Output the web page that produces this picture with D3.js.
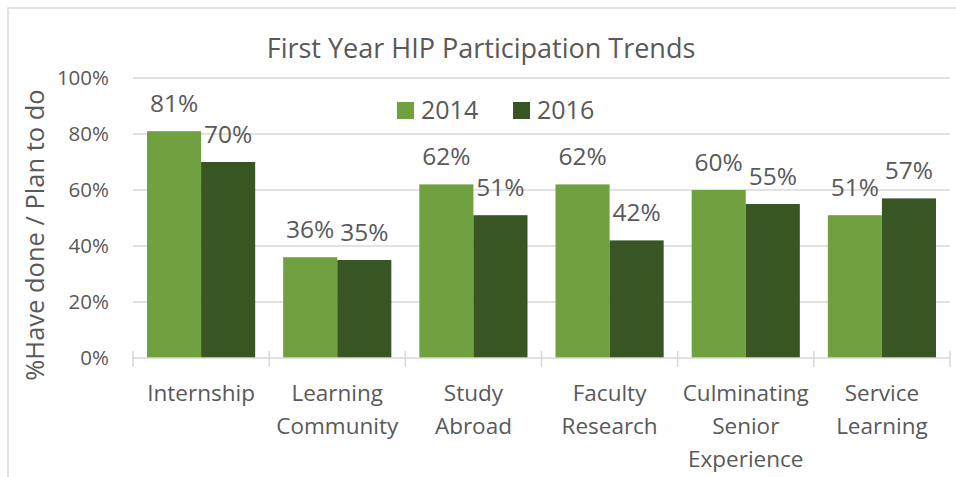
<!DOCTYPE html>
<html>
<head>
<meta charset="utf-8">
<script src="https://cdn.jsdelivr.net/npm/d3@7"></script>
<style>
  body { margin: 0; background: #fff; }
  text { font-family: "Open Sans", sans-serif; fill: #595959; }
</style>
</head>
<body>
<div id="chart"></div>
<script>
var categories = [["Internship"], ["Learning", "Community"], ["Study", "Abroad"],
                  ["Faculty", "Research"], ["Culminating", "Senior", "Experience"], ["Service", "Learning"]];
var series = ["2014", "2016"];
var values2014 = [81, 36, 62, 62, 60, 51];
var values2016 = [70, 35, 51, 42, 55, 57];
var yTicks = [0, 20, 40, 60, 80, 100];
var colors = ["#70a040", "#385623"];

var width = 956, height = 477;
var plot = {left: 133, right: 950, top: 78, bottom: 358};

var svg = d3.select('#chart').append('svg')
  .attr('width', width)
  .attr('height', height);

// chart border
svg.append('rect')
  .attr('x', 8).attr('y', 8)
  .attr('width', 960).attr('height', 480)
  .style('fill', 'none')
  .style('stroke', '#d9d9d9')
  .style('stroke-width', 1.5);

var x0 = d3.scaleBand()
  .domain(d3.range(categories.length))
  .range([plot.left, plot.right]);

var x1 = d3.scaleBand()
  .domain(series)
  .range([14, x0.bandwidth() - 14]);

var y = d3.scaleLinear()
  .domain([0, 100])
  .range([plot.bottom, plot.top]);

// gridlines
svg.append('g').selectAll('line')
  .data(yTicks.slice(1))
  .enter().append('line')
  .attr('x1', plot.left).attr('x2', plot.right)
  .attr('y1', function(d){ return y(d); })
  .attr('y2', function(d){ return y(d); })
  .style('stroke', '#d9d9d9')
  .style('stroke-width', 1.5);

// y tick labels
svg.append('g').selectAll('text')
  .data(yTicks)
  .enter().append('text')
  .attr('x', 109)
  .attr('y', function(d){ return y(d); })
  .attr('dy', 7)
  .style('text-anchor', 'end')
  .style('font-size', '20.5px')
  .text(function(d){ return d + '%'; });

// bars
var rows = categories.map(function(c, i){ return [values2014[i], values2016[i]]; });
var groups = svg.append('g').selectAll('g')
  .data(rows)
  .enter().append('g')
  .attr('transform', function(d, i){ return 'translate(' + x0(i) + ',0)'; });

groups.selectAll('rect')
  .data(function(d){ return d; })
  .enter().append('rect')
  .attr('x', function(d, i){ return x1(series[i]); })
  .attr('y', function(d){ return y(d); })
  .attr('width', x1.bandwidth())
  .attr('height', function(d){ return y(0) - y(d); })
  .style('fill', function(d, i){ return colors[i]; });

groups.selectAll('text.lbl')
  .data(function(d){ return d; })
  .enter().append('text')
  .attr('class', 'lbl')
  .attr('x', function(d, i){ return x1(series[i]) + x1.bandwidth() / 2; })
  .attr('y', function(d){ return y(d) - 19; })
  .style('text-anchor', 'middle')
  .style('font-size', '24.5px')
  .text(function(d){ return d + '%'; });

// x axis line + cross ticks
svg.append('line')
  .attr('x1', plot.left).attr('x2', plot.right)
  .attr('y1', y(0)).attr('y2', y(0))
  .style('stroke', '#d9d9d9')
  .style('stroke-width', 1.5);

svg.append('g').selectAll('line')
  .data(d3.range(categories.length + 1))
  .enter().append('line')
  .attr('x1', function(i){ return plot.left + i * x0.bandwidth(); })
  .attr('x2', function(i){ return plot.left + i * x0.bandwidth(); })
  .attr('y1', y(0) - 7).attr('y2', y(0) + 9)
  .style('stroke', '#d9d9d9')
  .style('stroke-width', 1.5);

// category labels
svg.append('g').selectAll('text')
  .data(categories)
  .enter().append('text')
  .attr('x', function(d, i){ return x0(i) + x0.bandwidth() / 2; })
  .attr('y', 401)
  .style('text-anchor', 'middle')
  .style('font-size', '22.5px')
  .each(function(d){
    var t = d3.select(this);
    d.forEach(function(line, k){
      t.append('tspan')
        .attr('x', t.attr('x'))
        .attr('y', 401 + k * 33)
        .text(line);
    });
  });

// title
svg.append('text')
  .attr('x', 481).attr('y', 58)
  .style('text-anchor', 'middle')
  .style('font-size', '27px')
  .text('First Year HIP Participation Trends');

// y axis title
svg.append('text')
  .attr('transform', 'translate(44,235) rotate(-90)')
  .style('text-anchor', 'middle')
  .style('font-size', '25.5px')
  .text('%Have done / Plan to do');

// legend
var legend = svg.append('g').selectAll('g')
  .data(series)
  .enter().append('g')
  .attr('transform', function(d, i){ return 'translate(' + (397 + i * 116) + ',102)'; });

legend.append('rect')
  .attr('width', 17).attr('height', 17)
  .style('fill', function(d, i){ return colors[i]; });

legend.append('text')
  .attr('x', 24).attr('y', 17)
  .style('font-size', '25px')
  .text(function(d){ return d; });
</script>
</body>
</html>
